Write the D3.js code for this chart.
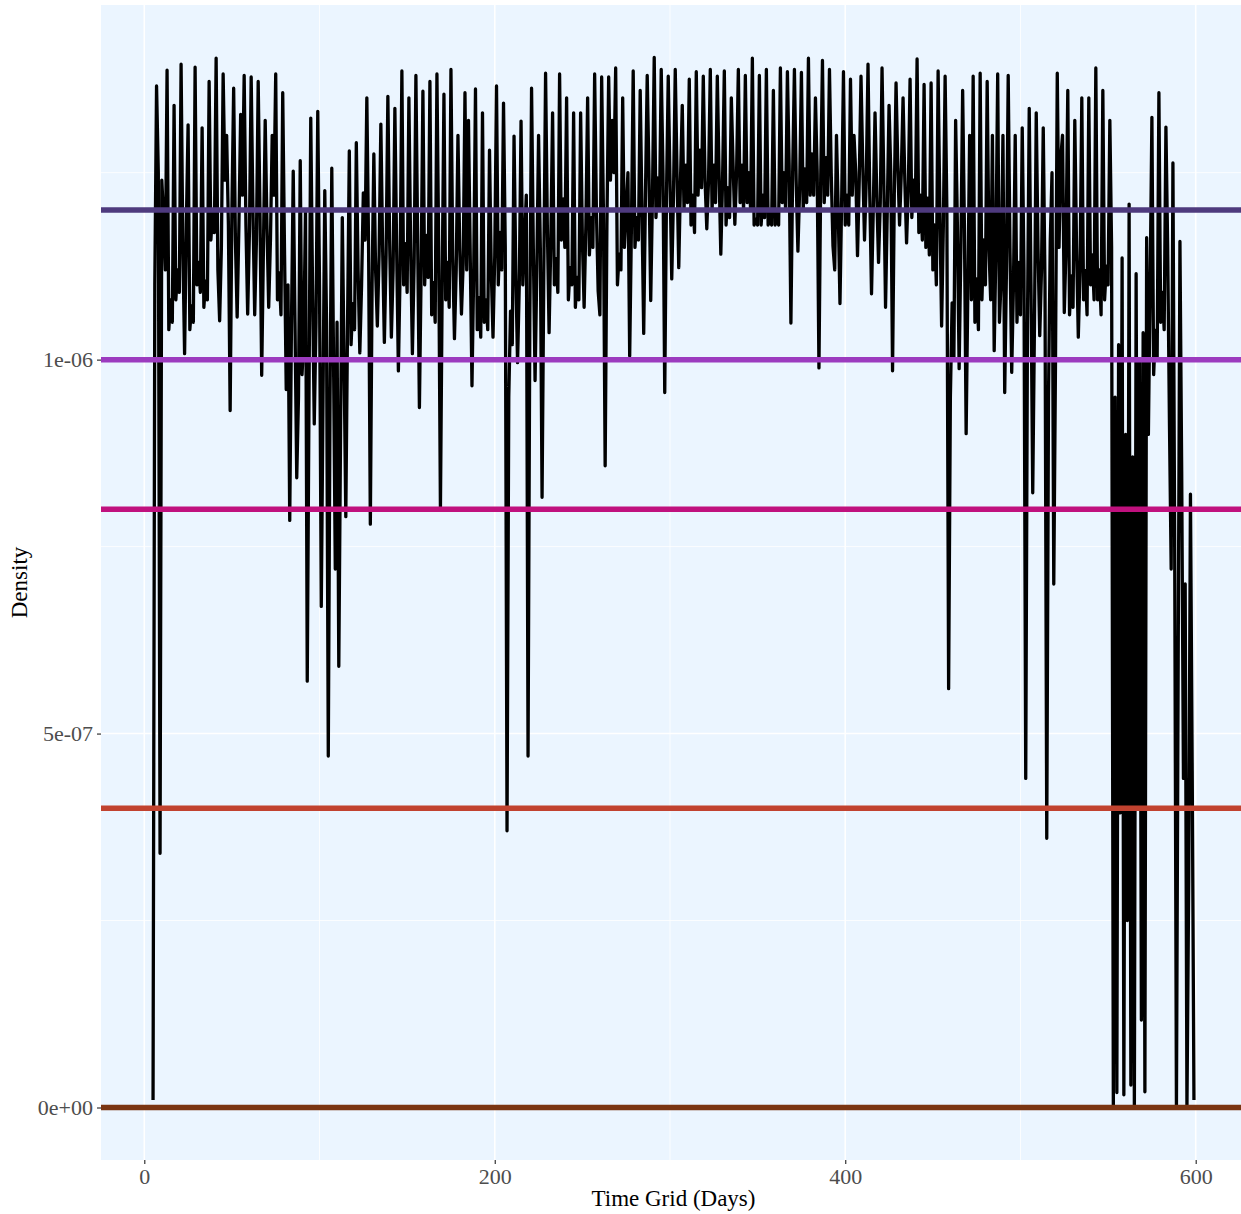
<!DOCTYPE html>
<html>
<head>
<meta charset="utf-8">
<script src="https://cdn.jsdelivr.net/npm/d3@7"></script>
<style>
  html, body { margin: 0; padding: 0; background: #ffffff; }
  svg { display: block; }
  text { font-family: "Liberation Serif", "DejaVu Serif", serif; }
</style>
</head>
<body>
<svg id="chart" width="1241" height="1214"></svg>
<script>
// ---- data (density in units of 1e-6) ----
// readings on odd days 5, 7, ..., 599
const oddDays = d3.range(5, 600, 2);
const densityOddMicro = [
  0.01, 1.366, 0.34, 1.19, 1.387, 1.08, 1.34, 1.12, 1.395, 1.008,
  1.314, 1.072, 1.391, 1.13, 1.31, 1.105, 1.372, 1.20, 1.403, 1.052,
  1.382, 1.30, 0.932, 1.363, 1.057, 1.328, 1.38, 1.061, 1.378, 1.06,
  1.372, 0.979, 1.32, 1.07, 1.30, 1.382, 1.116, 1.357, 0.96, 0.785,
  1.252, 0.842, 1.266, 1.025, 0.57, 1.323, 0.914, 1.332, 0.67, 1.226,
  0.47, 1.256, 0.72, 0.59, 1.19, 0.79, 1.279, 1.075, 1.29, 1.009,
  1.223, 1.35, 0.78, 1.275, 1.045, 1.315, 1.023, 1.352, 1.03, 1.336,
  0.985, 1.386, 1.155, 1.35, 1.008, 1.38, 0.936, 1.359, 1.166, 1.372,
  1.103, 1.382, 0.80, 1.355, 1.13, 1.388, 1.028, 1.30, 1.061, 1.357,
  1.32, 0.965, 1.362, 1.083, 1.33, 1.08, 1.28, 1.03, 1.366, 1.17,
  1.343, 0.37, 1.065, 1.299, 0.996, 1.319, 1.16, 0.47, 1.363, 0.972,
  1.30, 0.816, 1.383, 1.036, 1.33, 1.135, 1.382, 1.215, 1.35, 1.123,
  1.33, 1.11, 1.33, 1.07, 1.35, 1.19, 1.382, 1.092, 1.378, 0.858,
  1.378, 1.32, 1.39, 1.141, 1.35, 1.20, 1.005, 1.386, 1.19, 1.36,
  1.035, 1.38, 1.079, 1.404, 1.243, 1.388, 0.956, 1.379, 1.108, 1.388,
  1.123, 1.34, 1.26, 1.375, 1.22, 1.385, 1.28, 1.379, 1.175, 1.388,
  1.26, 1.379, 1.141, 1.386, 1.23, 1.35, 1.181, 1.388, 1.26, 1.38,
  1.25, 1.403, 1.188, 1.38, 1.22, 1.388, 1.195, 1.36, 1.195, 1.39,
  1.25, 1.385, 1.049, 1.388, 1.145, 1.384, 1.255, 1.403, 1.275, 1.35,
  0.989, 1.40, 1.27, 1.388, 1.152, 1.30, 1.075, 1.385, 1.22, 1.375,
  1.30, 1.139, 1.379, 1.16, 1.395, 1.088, 1.33, 1.13, 1.39, 1.07,
  1.34, 0.985, 1.37, 1.18, 1.35, 1.156, 1.375, 1.24, 1.402, 1.22,
  1.368, 1.216, 1.37, 1.18, 1.386, 1.045, 1.379, 0.56, 1.076, 1.32,
  0.988, 1.36, 0.901, 1.30, 1.379, 1.108, 1.383, 1.16, 1.372, 1.08,
  1.012, 1.382, 1.11, 0.956, 1.38, 0.983, 1.30, 1.13, 1.31, 0.44,
  1.336, 0.822, 1.33, 1.032, 1.31, 0.36, 1.159, 0.70, 1.383, 1.27,
  1.063, 1.36, 1.112, 1.32, 1.03, 1.35, 1.119, 1.35, 1.14, 1.39,
  1.12, 1.36, 1.125, 1.32, 0.0, 0.02, 0.394, 0.017, 0.25, 0.03,
  0.0, 0.40, 0.117, 0.021, 0.90, 1.324, 1.039, 1.357, 1.09, 1.311,
  0.919, 1.263, 0.0, 1.158, 0.44, 0.0, 0.82, 0.01
];
// readings on even days 6, 8, ..., 598
const evenDays = d3.range(6, 599, 2);
const densityEvenMicro = [
  1.10, 1.25, 1.24, 1.12, 1.04, 1.05, 1.08, 1.09, 1.15, 1.18,
  1.04, 1.05, 1.10, 1.09, 1.07, 1.08, 1.16, 1.17, 1.12, 1.15,
  1.24, 1.18, 1.20, 1.16, 1.18, 1.22, 1.18, 1.17, 1.20, 1.16,
  1.20, 1.15, 1.18, 1.16, 1.22, 1.08, 1.06, 1.15, 1.10, 1.05,
  1.05, 0.95, 0.98, 1.20, 0.95, 1.10, 1.05, 1.10, 0.95, 1.05,
  0.95, 1.00, 1.05, 0.90, 1.00, 1.05, 1.02, 1.04, 1.12, 1.10,
  1.16, 1.15, 1.10, 1.12, 1.14, 1.15, 1.14, 1.16, 1.12, 1.15,
  1.12, 1.10, 1.09, 1.15, 1.13, 1.16, 1.12, 1.10, 1.11, 1.06,
  1.05, 1.15, 1.10, 1.08, 1.07, 1.14, 1.12, 1.15, 1.13, 1.12,
  1.14, 1.12, 1.04, 1.03, 1.05, 1.04, 1.12, 1.14, 1.10, 1.12,
  1.15, 0.95, 1.02, 1.12, 1.10, 1.10, 1.22, 1.05, 1.15, 1.12,
  1.15, 1.12, 1.18, 1.16, 1.10, 1.09, 1.16, 1.15, 1.08, 1.10,
  1.07, 1.08, 1.16, 1.18, 1.14, 1.15, 1.20, 1.06, 1.20, 1.18,
  1.24, 1.25, 1.10, 1.12, 1.15, 1.25, 1.18, 1.15, 1.16, 1.20,
  1.22, 1.25, 1.22, 1.19, 1.20, 1.25, 1.22, 1.24, 1.22, 1.25,
  1.24, 1.20, 1.21, 1.18, 1.17, 1.22, 1.23, 1.24, 1.24, 1.20,
  1.21, 1.25, 1.24, 1.18, 1.19, 1.26, 1.25, 1.21, 1.20, 1.21,
  1.20, 1.18, 1.18, 1.18, 1.19, 1.18, 1.18, 1.18, 1.18, 1.21,
  1.20, 1.26, 1.25, 1.24, 1.23, 1.20, 1.21, 1.22, 1.22, 1.25,
  1.24, 1.21, 1.22, 1.25, 1.12, 1.20, 1.22, 1.18, 1.18, 1.22,
  1.25, 1.24, 1.26, 1.24, 1.22, 1.20, 1.22, 1.21, 1.24, 1.20,
  1.25, 1.22, 1.26, 1.25, 1.24, 1.23, 1.19, 1.20, 1.17, 1.16,
  1.15, 1.14, 1.12, 1.10, 1.20, 1.18, 1.20, 0.95, 1.00, 1.18,
  1.15, 1.18, 1.10, 1.08, 1.05, 1.04, 1.08, 1.10, 1.15, 1.30,
  1.15, 1.05, 1.30, 1.12, 1.15, 1.10, 1.05, 1.06, 1.12, 1.05,
  1.10, 1.05, 1.15, 1.12, 1.10, 0.95, 1.25, 1.00, 1.15, 1.30,
  1.15, 1.06, 1.07, 1.15, 1.12, 1.08, 1.06, 1.10, 1.08, 1.08,
  1.06, 1.08, 1.10, 1.15, 0.95, 1.02, 1.136, 0.90, 1.208, 0.87,
  1.115, 1.00, 1.036, 1.163, 1.10, 0.98, 1.00, 1.05, 1.04, 1.15,
  0.72, 0.75, 0.60, 0.85, 0.70, 0.30, 0.45
];
const UNIT = 1e-6;

// reference levels (horizontal lines)
const refLevels = [1.2e-6, 1.0e-6, 0.8e-6, 0.4e-6, 0];
const refColors = ["#4e3a7e", "#9c3bbf", "#c0117e", "#c1422f", "#7a3512"];

// ticks
const xTicks = [0, 200, 400, 600];
const xTickLabels = ["0", "200", "400", "600"];
const xMinor = [100, 300, 500];
const yTicks = [0, 5e-7, 1e-6];
const yTickLabels = ["0e+00", "5e-07", "1e-06"];
const yMinor = [2.5e-7, 7.5e-7, 1.25e-6];

const xTitle = "Time Grid (Days)";
const yTitle = "Density";

// ---- build the series table ----
const data = oddDays.map((t, i) => ({ t: t, v: densityOddMicro[i] * UNIT }))
  .concat(evenDays.map((t, i) => ({ t: t, v: densityEvenMicro[i] * UNIT })))
  .sort((a, b) => a.t - b.t);

// ---- layout ----
const panel = { left: 101, right: 1246, top: 5, bottom: 1160 };
const svg = d3.select("#chart");

function expand(ext) {
  const pad = (ext[1] - ext[0]) * 0.05;
  return [ext[0] - pad, ext[1] + pad];
}

const x = d3.scaleLinear()
  .domain(expand(d3.extent(data, d => d.t)))
  .range([panel.left, panel.right]);
const y = d3.scaleLinear()
  .domain(expand(d3.extent(data, d => d.v)))
  .range([panel.bottom, panel.top]);

// panel background
svg.append("rect")
  .attr("x", panel.left).attr("y", panel.top)
  .attr("width", panel.right - panel.left)
  .attr("height", panel.bottom - panel.top)
  .attr("fill", "#ebf5ff");

const grid = svg.append("g");
grid.selectAll("line.xminor").data(xMinor).enter().append("line")
  .attr("x1", d => x(d)).attr("x2", d => x(d))
  .attr("y1", panel.top).attr("y2", panel.bottom)
  .attr("stroke", "#ffffff").attr("stroke-width", 0.8);
grid.selectAll("line.yminor").data(yMinor).enter().append("line")
  .attr("y1", d => y(d)).attr("y2", d => y(d))
  .attr("x1", panel.left).attr("x2", panel.right)
  .attr("stroke", "#ffffff").attr("stroke-width", 0.8);
grid.selectAll("line.xmajor").data(xTicks).enter().append("line")
  .attr("x1", d => x(d)).attr("x2", d => x(d))
  .attr("y1", panel.top).attr("y2", panel.bottom)
  .attr("stroke", "#ffffff").attr("stroke-width", 1.6);
grid.selectAll("line.ymajor").data(yTicks).enter().append("line")
  .attr("y1", d => y(d)).attr("y2", d => y(d))
  .attr("x1", panel.left).attr("x2", panel.right)
  .attr("stroke", "#ffffff").attr("stroke-width", 1.6);

// density line
const line = d3.line().x(d => x(d.t)).y(d => y(d.v));
svg.append("path")
  .datum(data)
  .attr("d", line)
  .attr("fill", "none")
  .attr("stroke", "#000000")
  .attr("stroke-width", 3.3)
  .attr("stroke-linejoin", "round")
  .attr("stroke-linecap", "butt");

// reference lines
svg.selectAll("line.ref").data(refLevels).enter().append("line")
  .attr("x1", panel.left).attr("x2", panel.right)
  .attr("y1", d => y(d)).attr("y2", d => y(d))
  .attr("stroke", (d, i) => refColors[i])
  .attr("stroke-width", 5.5);

// axes
const xAxis = d3.axisBottom(x)
  .tickValues(xTicks)
  .tickFormat((d, i) => xTickLabels[i])
  .tickSize(4).tickPadding(4);
const gx = svg.append("g")
  .attr("transform", `translate(0,${panel.bottom})`)
  .call(xAxis);
gx.select(".domain").remove();
gx.selectAll(".tick line").attr("stroke", "#333333").attr("stroke-width", 1.2);
gx.selectAll(".tick text")
  .attr("fill", "#4d4d4d")
  .style("font-size", "22px")
  .style("font-family", '"Liberation Serif", "DejaVu Serif", serif');

const yAxis = d3.axisLeft(y)
  .tickValues(yTicks)
  .tickFormat((d, i) => yTickLabels[i])
  .tickSize(4).tickPadding(4);
const gy = svg.append("g")
  .attr("transform", `translate(${panel.left},0)`)
  .call(yAxis);
gy.select(".domain").remove();
gy.selectAll(".tick line").attr("stroke", "#333333").attr("stroke-width", 1.2);
gy.selectAll(".tick text")
  .attr("fill", "#4d4d4d")
  .style("font-size", "22px")
  .style("font-family", '"Liberation Serif", "DejaVu Serif", serif');

// axis titles
svg.append("text")
  .attr("x", (panel.left + panel.right) / 2)
  .attr("y", 1206)
  .attr("text-anchor", "middle")
  .attr("fill", "#000000")
  .style("font-size", "23px")
  .text(xTitle);

svg.append("text")
  .attr("transform", `translate(27,${(panel.top + panel.bottom) / 2}) rotate(-90)`)
  .attr("text-anchor", "middle")
  .attr("fill", "#000000")
  .style("font-size", "23px")
  .text(yTitle);
</script>
</body>
</html>
